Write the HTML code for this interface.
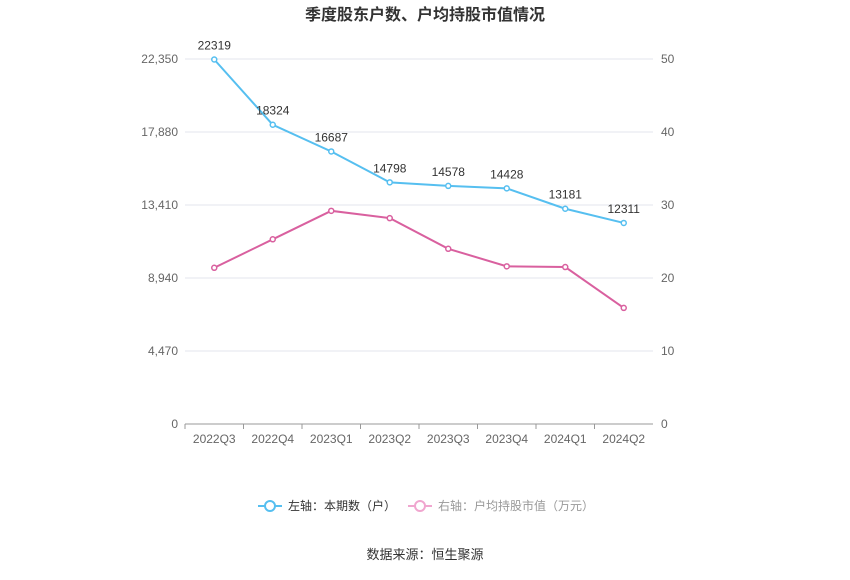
<!DOCTYPE html>
<html><head><meta charset="utf-8"><style>
body{margin:0;background:#fff;font-family:"Liberation Sans","Noto Sans CJK SC",sans-serif;}
</style></head><body>
<svg width="850" height="575" xmlns="http://www.w3.org/2000/svg" font-family="Liberation Sans, Noto Sans CJK SC, sans-serif">
<text x="425" y="20" text-anchor="middle" font-size="16" font-weight="bold" fill="#333">季度股东户数、户均持股市值情况</text>
<g id="grid"></g><g id="axes"></g><g id="series"></g>
<g>
<g>
<line x1="258" y1="506" x2="282" y2="506" stroke="#56bff0" stroke-width="2"/><circle cx="270" cy="506" r="5" fill="#fff" stroke="#56bff0" stroke-width="2"/>
<text x="288" y="510" font-size="12" fill="#333">左轴：本期数（户）</text></g>
<g>
<line x1="408" y1="506" x2="432" y2="506" stroke="#f0a6cf" stroke-width="2"/><circle cx="420" cy="506" r="5" fill="#fff" stroke="#f0a6cf" stroke-width="2"/>
<text x="438" y="510" font-size="12" fill="#999">右轴：户均持股市值（万元）</text></g>
</g>
<text x="425" y="559" text-anchor="middle" font-size="13" fill="#333">数据来源：恒生聚源</text>
</svg>
<script>
const categories=["2022Q3","2022Q4","2023Q1","2023Q2","2023Q3","2023Q4","2024Q1","2024Q2"];
const holders=[22319,18324,16687,14798,14578,14428,13181,12311];
const avgValue=[21.4,25.3,29.2,28.2,24.0,21.6,21.5,15.9];
const leftTicks=[0,4470,8940,13410,17880,22350];
const rightTicks=[0,10,20,30,40,50];
const NS="http://www.w3.org/2000/svg";
const x0=185,x1=653,yTop=59,yBot=424;
const bw=(x1-x0)/categories.length;
const xs=i=>x0+bw*(i+0.5);
const yL=v=>yBot-(v/22350)*(yBot-yTop);
const yR=v=>yBot-(v/50)*(yBot-yTop);
function mk(t,a,p){const e=document.createElementNS(NS,t);for(const k in a)e.setAttribute(k,a[k]);p.appendChild(e);return e;}
const g=document.getElementById('grid'),ax=document.getElementById('axes'),s=document.getElementById('series');
leftTicks.forEach((v,i)=>{
 const l=mk('line',{x1:x0,x2:x1,y1:yL(v),y2:yL(v),stroke:i?'#e3e6ee':'#999','stroke-width':1},g);
 
 
 const t=mk('text',{x:178,y:yL(v)+4,'text-anchor':'end','font-size':12,fill:'#666'},ax);t.textContent=v.toLocaleString('en-US');
 
 
});
rightTicks.forEach(v=>{
 const t=mk('text',{x:661,y:yR(v)+4,'text-anchor':'start','font-size':12,fill:'#666'},ax);t.textContent=v;
 
 
});
categories.forEach((c,i)=>{
 const t=mk('text',{x:xs(i),y:443,'text-anchor':'middle','font-size':12,fill:'#666'},ax);t.textContent=c;
 
 
 const k=mk('line',{x1:x0+bw*i,x2:x0+bw*i,y1:yBot,y2:yBot+5,stroke:'#999'},ax);
 
 
});
function series(vals,yf,color,name,labels){
 const p=mk('polyline',{points:vals.map((v,i)=>xs(i)+','+yf(v)).join(' '),fill:'none',stroke:color,'stroke-width':2},s);
 
 
 vals.forEach((v,i)=>{
  const c=mk('circle',{cx:xs(i),cy:yf(v),r:2.5,fill:'#fff',stroke:color,'stroke-width':1.5},s);
  
  
  if(labels){const t=mk('text',{x:xs(i),y:yf(v)-10,'text-anchor':'middle','font-size':12,fill:'#333'},s);t.textContent=v;
  
  }
 });
}
series(avgValue,yR,'#d9609f','avg-value',false);
series(holders,yL,'#56bff0','holders',true);
</script>
</body></html>
